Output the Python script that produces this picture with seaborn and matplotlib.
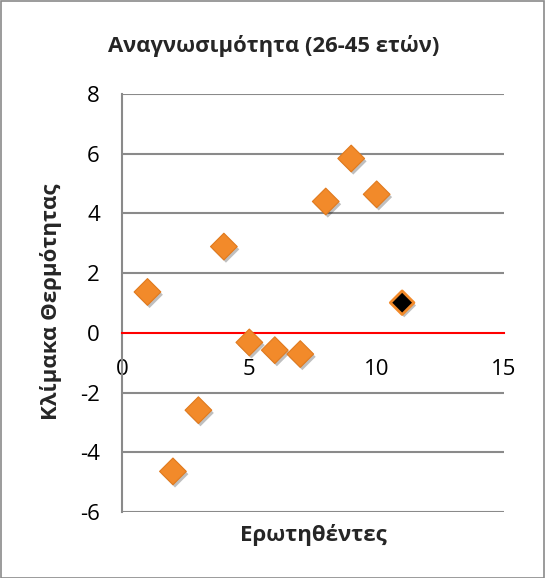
import matplotlib
matplotlib.use("Agg")
import matplotlib.pyplot as plt
import matplotlib.patheffects as pe
import seaborn as sns
import pandas as pd
from matplotlib.patches import Rectangle

respondents = [1, 2, 3, 4, 5, 6, 7, 8, 9, 10, 11]
heat_scale = [1.37, -4.64, -2.59, 2.89, -0.32, -0.58, -0.71, 4.40, 5.84, 4.64, 1.01]
group = ["normal"] * 10 + ["highlight"]

title = "Αναγνωσιμότητα (26-45 ετών)"
xlabel = "Ερωτηθέντες"
ylabel = "Κλίμακα Θερμότητας"
xticks = [0, 5, 10, 15]
yticks = [-6, -4, -2, 0, 2, 4, 6, 8]

sns.set_theme(style="white")
plt.rcParams["font.family"] = ["Open Sans", "DejaVu Sans"]

df = pd.DataFrame({"x": respondents, "y": heat_scale, "g": group})

fig = plt.figure(figsize=(5.45, 5.78), dpi=100)
ax = fig.add_axes([122 / 545, 1 - 512 / 578, (504 - 122) / 545, (512 - 94) / 578])

for yv in yticks:
    if yv != 0:
        ax.axhline(yv, color="#8a8a8a", lw=1.5, zorder=1)

shadow = [pe.SimplePatchShadow(offset=(1.5, -2), shadow_rgbFace="#000000", alpha=0.25), pe.Normal()]

sns.scatterplot(data=df[df.g == "normal"], x="x", y="y", marker="D", s=185,
                color="#F28A2A", edgecolor="#E07A1E", linewidth=0.8, ax=ax, zorder=3, legend=False)
sns.scatterplot(data=df[df.g == "highlight"], x="x", y="y", marker="D", s=145,
                color="#000000", edgecolor="#F28A2A", linewidth=2.0, ax=ax, zorder=3, legend=False)
for coll in ax.collections:
    coll.set_path_effects(shadow)

ax.spines["bottom"].set_position(("data", 0))
ax.spines["bottom"].set_color("#FF0000")
ax.spines["bottom"].set_linewidth(1.5)
ax.spines["left"].set_color("#8a8a8a")
ax.spines["left"].set_linewidth(1.5)
ax.spines["top"].set_visible(False)
ax.spines["right"].set_visible(False)

ax.set_xlim(0, 15)
ax.set_ylim(-6, 8)
ax.set_xticks(xticks)
ax.set_yticks(yticks)
ax.set_xticklabels([str(v) for v in xticks])
ax.set_yticklabels([str(v) for v in yticks])
ax.tick_params(axis="both", length=0, labelsize=16, labelcolor="#000000")
ax.tick_params(axis="y", pad=16)
ax.tick_params(axis="x", pad=19)
ax.set_xlabel("")
ax.set_ylabel("")

fig.text(313 / 545, 1 - 535 / 578, xlabel, ha="center", va="center",
         fontsize=16, fontweight="bold")
fig.text(51 / 545, 1 - 302 / 578, ylabel, ha="center", va="center", rotation=90,
         fontsize=16, fontweight="bold")
fig.text(274 / 545, 1 - 46 / 578, title, ha="center", va="center",
         fontsize=15.8, fontweight="bold")

fig.patches.append(Rectangle((0.5 / 545, 0.5 / 578), 1 - 1.5 / 545, 1 - 1.5 / 578,
                             transform=fig.transFigure, fill=False, edgecolor="#8a8a8a", lw=1.2))

fig.savefig("out.png", dpi=100)
